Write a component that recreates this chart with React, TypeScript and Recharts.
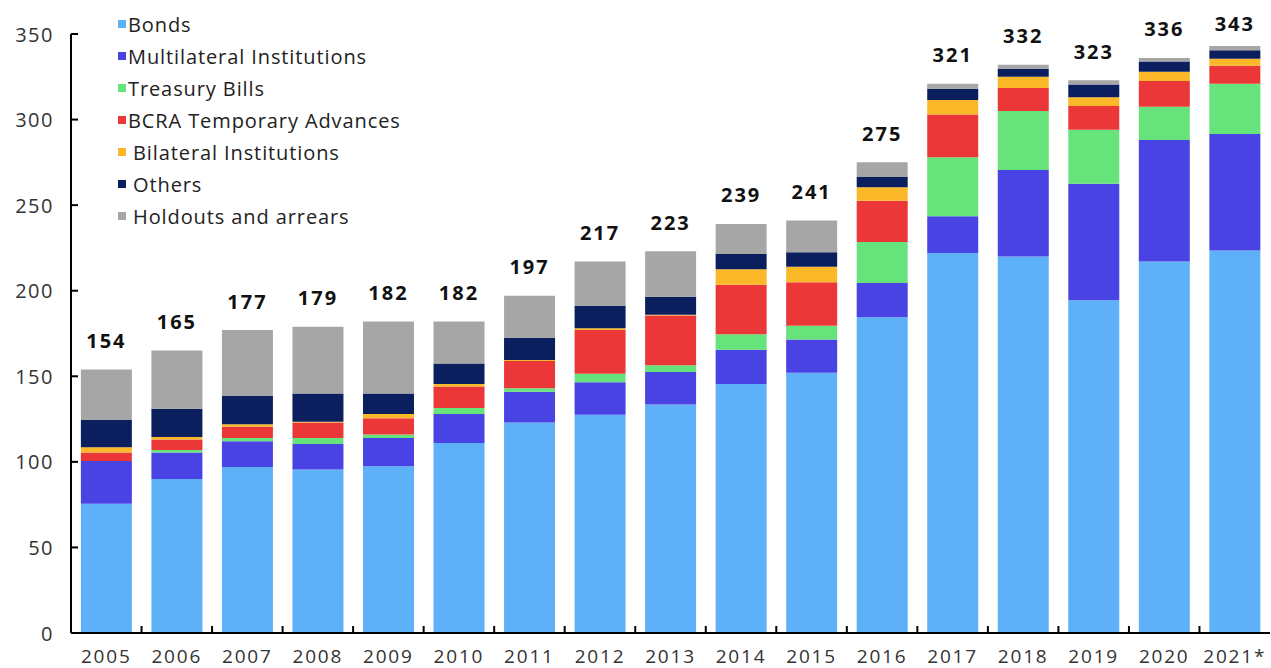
import { Bar, BarChart, LabelList, Legend, XAxis, YAxis } from "recharts"

const years = ['2005', '2006', '2007', '2008', '2009', '2010', '2011', '2012', '2013', '2014', '2015', '2016', '2017', '2018', '2019', '2020', '2021*'];
const bonds = [75.5, 90, 97, 95.5, 97.5, 111, 123, 127.5, 133.5, 145.5, 152, 184.5, 222, 220, 194.5, 217, 223.5];
const multilateral = [25, 15.5, 15, 15, 16.5, 17, 18, 19, 19, 20, 19.5, 20, 21.5, 50.5, 68, 71, 68];
const treasuryBills = [0, 1.5, 2, 3.5, 2, 3.5, 2, 5, 4, 9, 8, 24, 34.5, 34.5, 31.5, 19.5, 29.5];
const bcra = [5, 6, 6.5, 9, 9.5, 12.5, 16, 25.5, 29, 29, 25.5, 24, 25, 13.5, 14, 15, 10.5];
const bilateral = [3, 1.5, 1.5, 0.5, 2.5, 1.5, 0.5, 1, 0.5, 9, 9, 8, 8.5, 6.5, 5, 5.5, 4];
const others = [16, 16.5, 16.5, 16.5, 12, 12, 13, 13, 10.5, 9, 8.5, 6, 6.5, 4.5, 7.5, 6, 5];
const holdouts = [29.5, 34, 38.5, 39, 42, 24.5, 24.5, 26, 26.5, 17.5, 18.5, 8.5, 3, 2.5, 2.5, 2, 2.5];
const totals = [154, 165, 177, 179, 182, 182, 197, 217, 223, 239, 241, 275, 321, 332, 323, 336, 343];
const yTicks = [0, 50, 100, 150, 200, 250, 300, 350];
const seriesNames = ['Bonds', 'Multilateral Institutions', 'Treasury Bills', 'BCRA Temporary Advances', 'Bilateral Institutions', 'Others', 'Holdouts and arrears'];

const data = years.map((year, i) => ({
  year,
  bonds: bonds[i],
  multilateral: multilateral[i],
  treasuryBills: treasuryBills[i],
  bcra: bcra[i],
  bilateral: bilateral[i],
  others: others[i],
  holdouts: holdouts[i],
  total: totals[i],
}));

const FONT = '"Open Sans", sans-serif';
const W = 1271;
const H = 668;
const Y_AXIS_W = 71;
const RIGHT = 1;
const BAND = (W - Y_AXIS_W - RIGHT) / years.length;

// y tick: label left of axis, small tick pointing into the plot
const YTick = (props: any) => {
  const { x, y, payload } = props;
  return (
    <g>
      <line x1={x + 18} x2={x + 25} y1={y} y2={y} stroke="#000" strokeWidth={2} />
      <text x={x + 1} y={y} textAnchor="end" dominantBaseline="central" fontFamily={FONT} fontSize={20} letterSpacing={1.5} fill="#333">
        {payload.value}
      </text>
    </g>
  );
};

// x tick: label under bar, small tick at the right band edge pointing up
const XTick = (props: any) => {
  const { x, y, payload, index } = props;
  return (
    <g>
      {index < years.length - 1 && (
        <line x1={x + BAND / 2} x2={x + BAND / 2} y1={y - 20} y2={y - 27} stroke="#000" strokeWidth={2} />
      )}
      <text x={x} y={y + 3} textAnchor="middle" dominantBaseline="central" fontFamily={FONT} fontSize={19} letterSpacing={1.8} fill="#333">
        {payload.value}
      </text>
    </g>
  );
};

const TotalLabel = (props: any) => {
  const { x, y, width, value } = props;
  return (
    <text
      x={x + width / 2}
      y={Math.max(y - 29, 23)}
      textAnchor="middle"
      dominantBaseline="central"
      fontFamily={FONT}
      fontWeight="bold"
      fontSize={20}
      letterSpacing={2}
      fill="#111"
    >
      {value}
    </text>
  );
};

const LegendList = ({ payload }: any) => (
  <div style={{ fontFamily: FONT, fontSize: 20, letterSpacing: 0.9, color: '#222' }}>
    {payload.map((p: any, i: number) => (
      <div key={p.value} style={{ display: 'flex', alignItems: 'center', height: 32, whiteSpace: 'nowrap' }}>
        <span style={{ width: 8, height: 8, background: p.color, marginRight: i >= 4 ? 7 : 2, display: 'inline-block' }} />
        <span>{p.value}</span>
      </div>
    ))}
  </div>
);

export default function App() {
  return (
    <div style={{ position: 'absolute', left: 0, top: 0, background: '#fff' }}>
      <BarChart
        width={W}
        height={H}
        data={data}
        margin={{ top: 34, right: RIGHT, left: 0, bottom: 0 }}
        barCategoryGap="14%"
      >
        <XAxis
          dataKey="year"
          height={35}
          tickLine={false}
          tickSize={0}
          tickMargin={20}
          axisLine={{ stroke: '#000', strokeWidth: 2 }}
          tick={<XTick />}
          interval={0}
        />
        <YAxis
          width={Y_AXIS_W}
          domain={[0, 350]}
          ticks={yTicks}
          tickLine={false}
          tickSize={0}
          tickMargin={18}
          axisLine={{ stroke: '#000', strokeWidth: 2 }}
          tick={<YTick />}
        />
        <Legend
          layout="vertical"
          align="center"
          verticalAlign="middle"
          itemSorter={(item: any) => seriesNames.indexOf(item.value)}
          wrapperStyle={{ top: 8, left: 118, width: 'auto', height: 'auto' }}
          content={<LegendList />}
        />
        <Bar dataKey="bonds" name={seriesNames[0]} stackId="a" fill="#5EB1F8" isAnimationActive={false} />
        <Bar dataKey="multilateral" name={seriesNames[1]} stackId="a" fill="#4A43E4" isAnimationActive={false} />
        <Bar dataKey="treasuryBills" name={seriesNames[2]} stackId="a" fill="#66E37B" isAnimationActive={false} />
        <Bar dataKey="bcra" name={seriesNames[3]} stackId="a" fill="#EC3739" isAnimationActive={false} />
        <Bar dataKey="bilateral" name={seriesNames[4]} stackId="a" fill="#FBB829" isAnimationActive={false} />
        <Bar dataKey="others" name={seriesNames[5]} stackId="a" fill="#0B1F5E" isAnimationActive={false} />
        <Bar dataKey="holdouts" name={seriesNames[6]} stackId="a" fill="#A6A6A6" isAnimationActive={false}>
          <LabelList dataKey="total" content={<TotalLabel />} />
        </Bar>
      </BarChart>
    </div>
  );
}
